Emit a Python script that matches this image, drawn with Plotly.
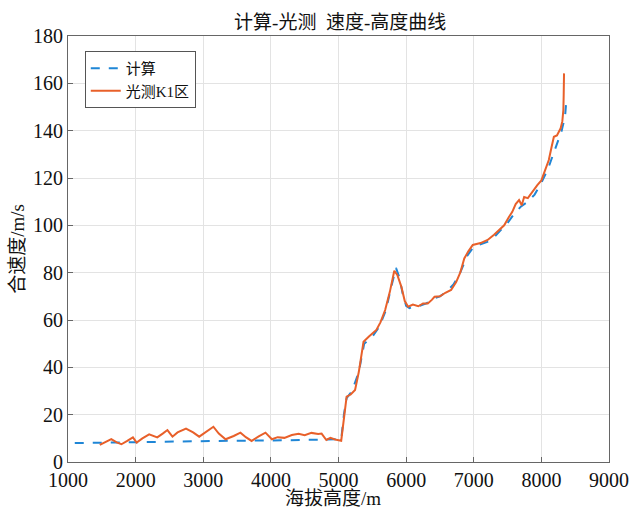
import plotly.graph_objects as go

calc_alt = [1100, 1500, 2000, 2500, 3000, 3500, 4000, 4500, 5000, 5040, 5080, 5120, 5200, 5300, 5380, 5500,
            5600, 5700, 5780, 5850, 5900, 5950, 6000, 6050, 6100, 6200, 6300, 6400, 6500, 6600, 6700, 6800,
            6900, 7000, 7100, 7200, 7300, 7400, 7500, 7600, 7700, 7800, 7900, 8000, 8100, 8200, 8300, 8350, 8370]
calc_v = [8.0, 8.2, 8.4, 8.6, 8.8, 9.0, 9.1, 9.3, 9.5, 9.6, 20, 27, 30, 38, 50, 53,
          57, 64, 74, 82, 78, 71, 66, 65, 65.5, 66, 67, 69, 70, 72, 75, 80,
          87, 91, 92, 93, 95, 98, 101, 105, 108, 110, 113, 118, 124, 132, 140, 146, 153]

obs_alt = [1470, 1560, 1640, 1720, 1790, 1870, 1960, 2015, 2100, 2200, 2260, 2320, 2400, 2470, 2545, 2620,
           2745, 2850, 2940, 3050, 3150, 3230, 3330, 3450, 3550, 3630, 3715, 3820, 3920, 4015, 4100, 4200,
           4310, 4410, 4500, 4600, 4700, 4750, 4820, 4880, 4950, 5040, 5080, 5120, 5180, 5245, 5300, 5370,
           5450, 5560, 5620, 5690, 5760, 5825, 5870, 5930, 5980, 6030, 6100, 6180, 6250, 6320, 6380, 6420,
           6500, 6580, 6665, 6740, 6800, 6860, 6920, 6985, 7100, 7205, 7300, 7380, 7450, 7520, 7570, 7620,
           7670, 7710, 7745, 7800, 7860, 7940, 8000, 8040, 8080, 8110, 8150, 8185, 8230, 8285, 8310, 8325,
           8330, 8335]
obs_v = [7.2, 8.5, 9.7, 8.3, 7.5, 8.8, 10.4, 8.2, 10.0, 11.7, 11.0, 10.4, 12.0, 13.5, 10.7, 12.5,
         14.1, 12.5, 10.7, 12.8, 14.9, 12.0, 9.6, 11.0, 12.4, 10.5, 8.9, 10.8, 12.4, 9.6, 10.5, 10.2,
         11.4, 11.9, 11.3, 12.3, 11.8, 12.0, 9.3, 10.2, 9.5, 9.0, 18, 27.6, 28.5, 30.4, 38, 50.8,
         53, 55.8, 59, 64.2, 72, 80.8, 79, 74, 68, 65.6, 66.5, 65.8, 67, 67, 68.5, 69.8,
         70, 71.5, 72.7, 76, 80, 86, 89, 91.7, 92.5, 93.8, 96, 98, 100, 103.5, 105.7, 109,
         110.7, 108.5, 112, 111.5, 114, 117, 119, 122, 125, 127.6, 133, 137.4, 138, 141, 144, 148.7,
         155, 164.2]

x_ticks = [1000, 2000, 3000, 4000, 5000, 6000, 7000, 8000, 9000]
y_ticks = [0, 20, 40, 60, 80, 100, 120, 140, 160, 180]
x_title = "海拔高度/m"
y_title = "合速度/m/s"
chart_title = "计算-光测  速度-高度曲线"

FONT = "Times New Roman, Liberation Serif, Noto Sans CJK SC, serif"

fig = go.Figure()
fig.add_trace(go.Scatter(x=calc_alt, y=calc_v, mode="lines", name="计算",
                         line=dict(color="#1f86d6", width=2, dash="dash")))
fig.add_trace(go.Scatter(x=obs_alt, y=obs_v, mode="lines", name="光测K1区",
                         line=dict(color="#e8602a", width=2)))

axis_common = dict(showgrid=True, gridcolor="#e3e3e3", gridwidth=1, showline=True, linecolor="#666666",
                   linewidth=1, mirror=True, ticks="inside", ticklen=5, tickcolor="#666666",
                   zeroline=False, automargin=False, ticklabeloverflow="allow",
                   tickfont=dict(family=FONT, size=20, color="#111111"))

fig.update_layout(
    width=630, height=509,
    paper_bgcolor="white", plot_bgcolor="white",
    margin=dict(l=68, r=21, t=36, b=47),
    title=dict(text=chart_title, x=0.54, xanchor="center", y=0.97, yanchor="top",
               font=dict(family=FONT, size=19, color="#111111")),
    xaxis=dict(range=[1000, 9000], tickvals=x_ticks, **axis_common),
    yaxis=dict(range=[0, 180], tickvals=y_ticks,
               title=dict(text=y_title, font=dict(family=FONT, size=19, color="#111111"), standoff=3),
               **axis_common),
    legend=dict(x=0.031, y=0.965, xanchor="left", yanchor="top", bgcolor="white",
                bordercolor="#555555", borderwidth=1,
                font=dict(family=FONT, size=15, color="#111111"), tracegroupgap=0),
    showlegend=True,
    annotations=[dict(text=x_title, xref="paper", yref="paper", x=0.49, y=0, xanchor="center",
                      yanchor="middle", yshift=-36, showarrow=False,
                      font=dict(family=FONT, size=19, color="#111111"))],
)

fig.write_html("out.html", config={"displayModeBar": False},
               post_script="document.body.style.margin='0';document.body.style.padding='0';")
